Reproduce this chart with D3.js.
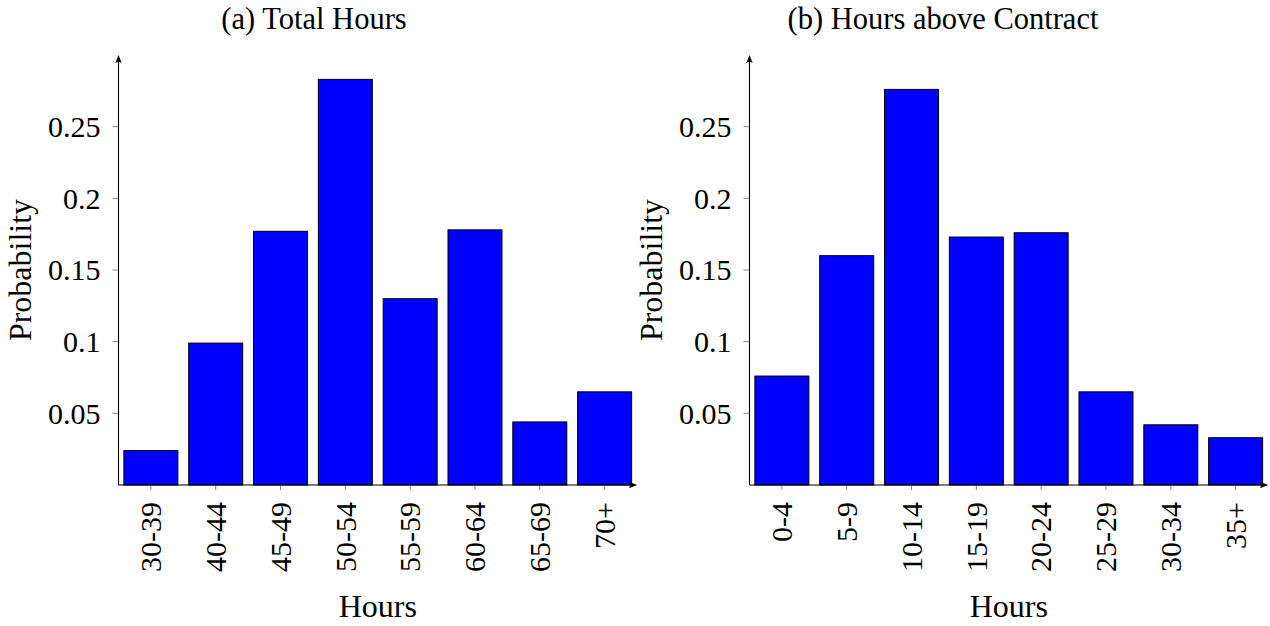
<!DOCTYPE html>
<html>
<head>
<meta charset="utf-8">
<script src="https://cdn.jsdelivr.net/npm/d3@7"></script>
<style>
  html, body { margin: 0; padding: 0; background: #fff; }
  svg { display: block; }
  text { font-family: "Liberation Serif", "Times New Roman", serif; fill: #000; }
</style>
</head>
<body>
<svg id="chart" width="1270" height="626"></svg>
<script>
// ---- data ----
const totalCategories = ["30-39", "40-44", "45-49", "50-54", "55-59", "60-64", "65-69", "70+"];
const totalProbability = [0.024, 0.099, 0.177, 0.283, 0.130, 0.178, 0.044, 0.065];

const aboveCategories = ["0-4", "5-9", "10-14", "15-19", "20-24", "25-29", "30-34", "35+"];
const aboveProbability = [0.076, 0.160, 0.276, 0.173, 0.176, 0.065, 0.042, 0.033];

const yTickValues = [0.05, 0.1, 0.15, 0.2, 0.25];
const yTickLabels = ["0.05", "0.1", "0.15", "0.2", "0.25"];

const panelTitles = ["(a) Total Hours", "(b) Hours above Contract"];
const xAxisTitle = "Hours";
const yAxisTitle = "Probability";

// ---- layout ----
const svg = d3.select("#chart");
const FS = 30;     // tick labels
const FSW = 32;    // axis titles
const FST = 30.5;  // panel titles
const yScale = d3.scaleLinear().domain([0, 0.3]).range([485, 55]);

function drawPanel(cats, vals, x0, x1, titleX, title) {
  const g = svg.append("g");
  const x = d3.scaleBand().domain(cats).range([x0, x1])
    .paddingInner(0.167).paddingOuter(0.083);
  const yBase = yScale(0);

  // bars
  g.selectAll("rect.bar").data(cats).enter().append("rect")
    .attr("class", "bar")
    .attr("x", d => x(d))
    .attr("width", x.bandwidth())
    .attr("y", (d, i) => yScale(vals[i]))
    .attr("height", (d, i) => yBase - yScale(vals[i]))
    .attr("fill", "#0000ff")
    .attr("stroke", "#000")
    .attr("stroke-width", 1);

  // y ticks
  g.selectAll("line.yt").data(yTickValues).enter().append("line")
    .attr("x1", x0 - 6).attr("x2", x0)
    .attr("y1", d => yScale(d)).attr("y2", d => yScale(d))
    .attr("stroke", "#888").attr("stroke-width", 1);
  g.selectAll("text.yl").data(yTickValues).enter().append("text")
    .attr("x", x0 - 18)
    .attr("y", d => yScale(d))
    .attr("dy", "0.34em")
    .attr("text-anchor", "end")
    .attr("font-size", FS)
    .text((d, i) => yTickLabels[i]);

  // x ticks
  g.selectAll("line.xt").data(cats).enter().append("line")
    .attr("x1", d => x(d) + x.bandwidth() / 2)
    .attr("x2", d => x(d) + x.bandwidth() / 2)
    .attr("y1", yBase).attr("y2", yBase + 5)
    .attr("stroke", "#888").attr("stroke-width", 1);
  g.selectAll("text.xl").data(cats).enter().append("text")
    .attr("transform", d => `translate(${x(d) + x.bandwidth() / 2},${yBase + 17}) rotate(-90)`)
    .attr("dy", "0.34em")
    .attr("text-anchor", "end")
    .attr("font-size", FS)
    .text(d => d);

  // axes lines with arrows
  const yTop = yScale.range()[1];
  g.append("line").attr("x1", x0).attr("x2", x0).attr("y1", yBase).attr("y2", yTop + 1)
    .attr("stroke", "#000").attr("stroke-width", 1.1);
  g.append("line").attr("x1", x0).attr("x2", x1 - 1).attr("y1", yBase).attr("y2", yBase)
    .attr("stroke", "#000").attr("stroke-width", 1.1);
  g.append("path")
    .attr("d", `M${x0},${yTop} L${x0 - 3.2},${yTop + 8} Q${x0},${yTop + 6} ${x0 + 3.2},${yTop + 8} Z`)
    .attr("fill", "#000");
  g.append("path")
    .attr("d", `M${x1},${yBase} L${x1 - 8},${yBase - 3.2} Q${x1 - 6},${yBase} ${x1 - 8},${yBase + 3.2} Z`)
    .attr("fill", "#000");

  // axis titles
  g.append("text")
    .attr("x", (x0 + x1) / 2).attr("y", 617)
    .attr("text-anchor", "middle").attr("font-size", FSW)
    .text(xAxisTitle);
  g.append("text")
    .attr("transform", `translate(${x0 - 88},${(yBase + yTop) / 2}) rotate(-90)`)
    .attr("text-anchor", "middle").attr("font-size", FSW)
    .text(yAxisTitle);

  // panel title
  g.append("text")
    .attr("x", titleX).attr("y", 29)
    .attr("text-anchor", "middle").attr("font-size", FST)
    .text(title);
}

drawPanel(totalCategories, totalProbability, 118.5, 637, 314, panelTitles[0]);
drawPanel(aboveCategories, aboveProbability, 749.5, 1268, 943, panelTitles[1]);
</script>
</body>
</html>
